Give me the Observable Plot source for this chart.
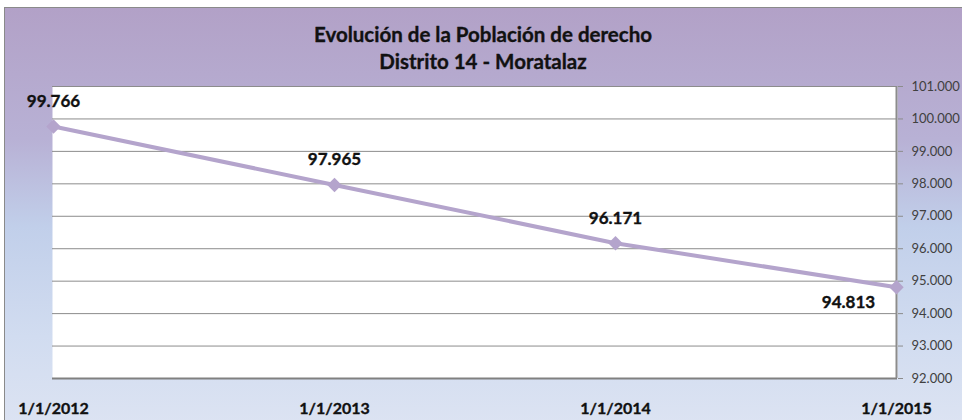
<!DOCTYPE html>
<html>
<head>
<meta charset="utf-8">
<script src="https://cdn.jsdelivr.net/npm/d3@7"></script>
<script src="https://cdn.jsdelivr.net/npm/@observablehq/plot@0.6"></script>
<style>
  html, body { margin: 0; padding: 0; background: #ffffff; }
  #wrap { position: relative; width: 962px; height: 420px; overflow: hidden; }
  #bg {
    position: absolute; left: 4px; top: 7px; width: 980px; height: 440px;
    border: 1px solid #8a8a8a; box-sizing: border-box;
    background: linear-gradient(to bottom, #b2a1c7 0%, #b8b1d5 30%, #c1cfea 50%, #d1dcf0 75%, #dfe5f3 100%);
  }
  #chart { position: absolute; left: 0; top: 0; }
  #chart svg { background: transparent; overflow: visible; }
</style>
</head>
<body>
<div id="wrap"><div id="bg"></div><div id="chart"></div></div>
<script>
const titleLines = ["Evolución de la Población de derecho", "Distrito 14 - Moratalaz"];
const dates = ["1/1/2012", "1/1/2013", "1/1/2014", "1/1/2015"];
const values = [99766, 97965, 96171, 94813];
const yTicks = [92000, 93000, 94000, 95000, 96000, 97000, 98000, 99000, 100000, 101000];

const fmt = d3.formatLocale({decimal: ",", thousands: ".", grouping: [3], currency: ["", "€"]}).format(",d");
const data = dates.map((d, i) => ({date: d, value: values[i]}));
const lastIdx = data.length - 1;

const lineColor = "#b4a4cc";
const font = "Lato, 'Open Sans', sans-serif";
const ink = "#111";
const boldStroke = {stroke: ink, strokeWidth: 0.35};

const chart = Plot.plot({
  width: 962,
  height: 420,
  marginLeft: 52,
  marginRight: 65,
  marginTop: 86,
  marginBottom: 42,
  style: {fontFamily: font, background: "transparent", color: ink},
  x: {type: "point", domain: dates, padding: 0},
  y: {domain: [yTicks[0], yTicks[yTicks.length - 1]]},
  marks: [
    Plot.frame({fill: "white", stroke: null}),
    Plot.gridY(yTicks, {stroke: "#8c8c8c", strokeOpacity: 1, strokeWidth: 1}),
    Plot.ruleY([yTicks[0]], {stroke: "#808080", strokeWidth: 2}),
    Plot.ruleX([dates[lastIdx]], {stroke: "#8c8c8c", strokeWidth: 2}),
    Plot.axisY(yTicks, {anchor: "right", tickFormat: fmt, tickSize: 5, tickPadding: 9,
      stroke: "#8c8c8c", fontSize: 13, fill: "#404040", label: null}),
    Plot.axisX({anchor: "bottom", tickSize: 0, tickPadding: 24, fontSize: 16, fontWeight: "bold", label: null,
      fill: ink, textStroke: ink, textStrokeWidth: 0.35}),
    Plot.line(data, {x: "date", y: "value", stroke: lineColor, strokeWidth: 4}),
    Plot.dot(data, {x: "date", y: "value", symbol: "diamond2", r: 6.5, fill: lineColor, stroke: null}),
    Plot.text(data.filter((d, i) => i < lastIdx), {x: "date", y: "value", text: d => fmt(d.value),
      dy: -25, fontSize: 17, fontWeight: "bold", fill: ink, ...boldStroke}),
    Plot.text(data.filter((d, i) => i === lastIdx), {x: "date", y: "value", text: d => fmt(d.value),
      dx: -48, dy: 15, fontSize: 17, fontWeight: "bold", fill: ink, ...boldStroke}),
    Plot.text([titleLines[0]], {frameAnchor: "top", lineAnchor: "middle", dx: 8, dy: -51, fontSize: 20.5, fontWeight: "bold", fill: ink, ...boldStroke}),
    Plot.text([titleLines[1]], {frameAnchor: "top", lineAnchor: "middle", dx: 8, dy: -24, fontSize: 20.5, fontWeight: "bold", fill: ink, ...boldStroke})
  ]
});
document.getElementById("chart").appendChild(chart);
</script>
</body>
</html>
